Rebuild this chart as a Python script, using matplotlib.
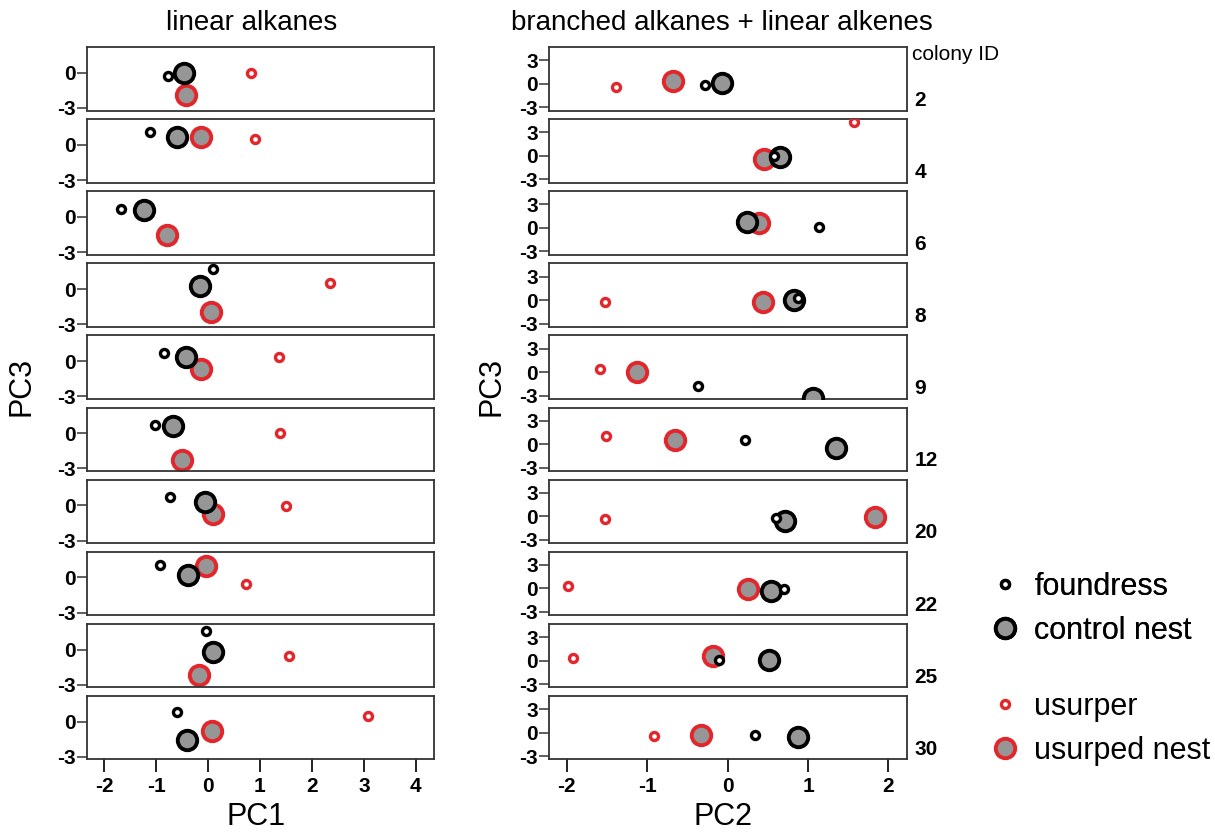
"""PCA of cuticular hydrocarbons per colony: foundress/usurper and their nests."""

import matplotlib

matplotlib.use("Agg")
import matplotlib.pyplot as plt
from matplotlib.lines import Line2D
import numpy as np

nan = np.nan

colony_ids = [2, 4, 6, 8, 9, 12, 20, 22, 25, 30]

# linear alkanes: PC1 (x) vs PC3 (y)
lin_foundress_pc1 = [-0.77, -1.12, -1.67, 0.10, -0.84, -1.03, -0.73, -0.93, -0.03, -0.59]
lin_foundress_pc3 = [-0.26, 1.12, 0.71, 1.71, 0.74, 0.74, 0.71, 1.03, 1.59, 0.79]
lin_control_pc1 = [-0.46, -0.59, -1.24, -0.15, -0.43, -0.67, -0.06, -0.38, 0.09, -0.41]
lin_control_pc3 = [-0.06, 0.65, 0.59, 0.29, 0.35, 0.59, 0.29, 0.24, -0.24, -1.59]
lin_usurper_pc1 = [0.82, 0.90, nan, 2.35, 1.37, 1.39, 1.51, 0.74, 1.56, 3.08]
lin_usurper_pc3 = [0.00, 0.47, nan, 0.53, 0.39, 0.03, -0.06, -0.59, -0.53, 0.51]
lin_usurped_pc1 = [-0.43, -0.13, -0.79, 0.06, -0.13, -0.51, 0.10, -0.03, -0.18, 0.08]
lin_usurped_pc3 = [-1.88, 0.65, -1.53, -1.97, -0.64, -2.26, -0.76, 0.97, -2.15, -0.82]

# branched alkanes + linear alkenes: PC2 (x) vs PC3 (y)
br_foundress_pc2 = [-0.28, 0.58, 1.13, 0.87, -0.37, 0.22, 0.60, 0.70, -0.11, 0.34]
br_foundress_pc3 = [-0.21, 0.04, 0.09, 0.25, -1.83, 0.58, -0.25, -0.12, 0.12, -0.25]
br_control_pc2 = [-0.07, 0.65, 0.24, 0.83, 1.06, 1.35, 0.71, 0.54, 0.51, 0.87]
br_control_pc3 = [0.04, -0.21, 0.77, 0.00, -3.30, -0.50, -0.58, -0.33, 0.12, -0.50]
br_usurper_pc2 = [-1.39, 1.57, nan, -1.53, -1.59, -1.51, -1.52, -1.98, -1.92, -0.91]
br_usurper_pc3 = [-0.38, 4.38, nan, -0.30, 0.42, 1.08, -0.33, 0.25, 0.29, -0.46]
br_usurped_pc2 = [-0.68, 0.45, 0.39, 0.44, -1.13, -0.66, 1.83, 0.25, -0.18, -0.33]
br_usurped_pc3 = [0.34, -0.43, 0.60, -0.30, -0.04, 0.54, -0.08, -0.12, 0.54, -0.29]

RED = "#E3262B"
GRAY = "#969696"
FRAME = "#333333"

SMALL = dict(marker="o", ms=5.8, mew=2.4, mfc="white", linestyle="none")
LARGE = dict(marker="o", ms=14.0, mew=2.8, mfc=GRAY, linestyle="none")

plt.rcParams["font.family"] = ["Liberation Sans", "DejaVu Sans"]
plt.rcParams["axes.unicode_minus"] = False

W, H = 1215, 832
fig = plt.figure(figsize=(W / 100, H / 100), dpi=100)

ROW_TOP = 47
ROW_PITCH = 72.1
ROW_H = 63.5


def panel_rect(left_px, right_px, row):
    top = ROW_TOP + ROW_PITCH * row
    return [left_px / W, 1 - (top + ROW_H) / H, (right_px - left_px) / W, ROW_H / H]


def style_axes(ax, xlim, ylim, yticks, bottom, xticks):
    ax.set_xlim(*xlim)
    ax.set_ylim(*ylim)
    for spine in ax.spines.values():
        spine.set_linewidth(1.3)
        spine.set_color(FRAME)
    ax.set_yticks(yticks)
    ax.set_yticklabels([f"{t:d}" for t in yticks], fontsize=15, fontweight="bold")
    ax.tick_params(axis="y", length=7, width=1.1, color=FRAME, pad=1)
    if bottom:
        ax.set_xticks(xticks)
        ax.set_xticklabels([f"{t:d}" for t in xticks], fontsize=15, fontweight="bold")
        ax.tick_params(axis="x", length=9, width=1.4, color="#222222", pad=4)
    else:
        ax.set_xticks([])


def draw_points(ax, fx, fy, cx, cy, ux, uy, px, py):
    ax.plot(px, py, mec=RED, zorder=2, **LARGE)
    ax.plot(cx, cy, mec="black", zorder=3, **LARGE)
    ax.plot(fx, fy, mec="black", zorder=4, **SMALL)
    ax.plot(ux, uy, mec=RED, zorder=5, **SMALL)


n = len(colony_ids)
for i, cid in enumerate(colony_ids):
    last = i == n - 1

    ax = fig.add_axes(panel_rect(87, 434, i))
    draw_points(
        ax,
        lin_foundress_pc1[i], lin_foundress_pc3[i],
        lin_control_pc1[i], lin_control_pc3[i],
        lin_usurper_pc1[i], lin_usurper_pc3[i],
        lin_usurped_pc1[i], lin_usurped_pc3[i],
    )
    style_axes(ax, (-2.33, 4.35), (-3.22, 2.2), [0, -3], last, [-2, -1, 0, 1, 2, 3, 4])

    ax = fig.add_axes(panel_rect(549, 907, i))
    draw_points(
        ax,
        br_foundress_pc2[i], br_foundress_pc3[i],
        br_control_pc2[i], br_control_pc3[i],
        br_usurper_pc2[i], br_usurper_pc3[i],
        br_usurped_pc2[i], br_usurped_pc3[i],
    )
    style_axes(ax, (-2.22, 2.23), (-3.42, 4.7), [3, 0, -3], last, [-2, -1, 0, 1, 2])
    ax.text(1.02, 0.16, str(cid), transform=ax.transAxes, ha="left", va="center",
            fontsize=15, fontweight="bold")

fig.text(912 / W, 1 - 55 / H, "colony ID", ha="left", va="center", fontsize=15)
fig.text(252 / W, 1 - 30 / H, "linear alkanes", ha="center", va="baseline", fontsize=20)
fig.text(722 / W, 1 - 30 / H, "branched alkanes + linear alkenes", ha="center",
         va="baseline", fontsize=20)

fig.text(256 / W, 1 - 817 / H, "PC1", ha="center", va="center", fontsize=22)
fig.text(723 / W, 1 - 817 / H, "PC2", ha="center", va="center", fontsize=22)
fig.text(22 / W, 1 - 386 / H, "PC3", ha="center", va="center", rotation=90, fontsize=22)
fig.text(492 / W, 1 - 386 / H, "PC3", ha="center", va="center", rotation=90, fontsize=22)

black_handles = [
    Line2D([], [], mec="black", **SMALL),
    Line2D([], [], mec="black", **LARGE),
]
red_handles = [
    Line2D([], [], mec=RED, **SMALL),
    Line2D([], [], mec=RED, **LARGE),
]
leg_kw = dict(loc="center left", frameon=False, fontsize=22, handlelength=1.0,
              handletextpad=0.45, labelspacing=0.45, borderpad=0, borderaxespad=0)
leg1 = fig.legend(black_handles, ["foundress", "control nest"],
                  bbox_to_anchor=(990 / W, 1 - 609 / H), **leg_kw)
fig.add_artist(leg1)
fig.legend(red_handles, ["usurper", "usurped nest"],
           bbox_to_anchor=(990 / W, 1 - 729 / H), **leg_kw)

fig.savefig("out.png", dpi=100)
